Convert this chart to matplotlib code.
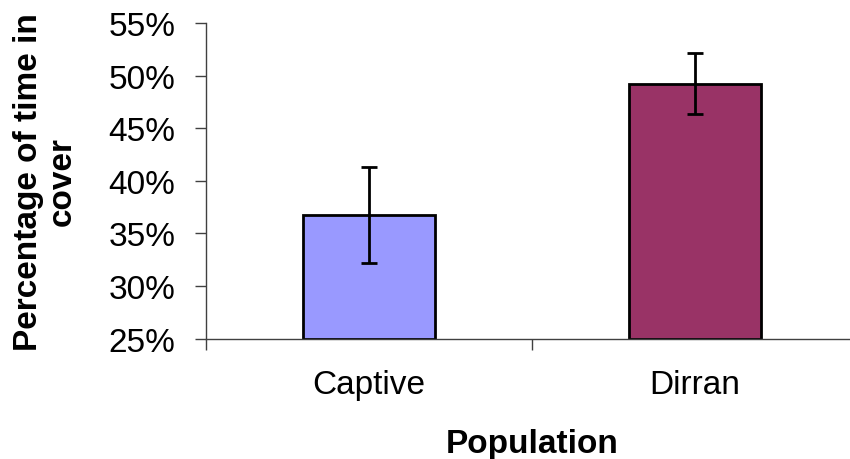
import numpy as np
import matplotlib.pyplot as plt
from matplotlib.ticker import FuncFormatter, MultipleLocator

plt.rcParams['font.family'] = ['Liberation Sans', 'DejaVu Sans']

populations = ["Captive", "Dirran"]
cover_pct = [36.7, 49.2]
err_low = [32.2, 46.3]
err_high = [41.3, 52.1]
bar_colours = ["#9999FF", "#993366"]

fig = plt.figure(figsize=(8.5, 4.6), dpi=100)
ax = fig.add_axes([206 / 850, 120.5 / 460, 652 / 850, 315.5 / 460])

x = np.arange(len(populations))
vals = np.array(cover_pct)
yerr = [vals - np.array(err_low), np.array(err_high) - vals]

ax.bar(x, vals - 25, bottom=25, width=0.405, color=bar_colours,
       edgecolor="black", linewidth=2, zorder=2)
ax.errorbar(x, vals, yerr=yerr, fmt="none", ecolor="black",
            elinewidth=2, capsize=6, capthick=2, zorder=3)

ax.set_xlim(-0.5, 1.5)
ax.set_ylim(25, 55)
ax.yaxis.set_major_locator(MultipleLocator(5))
ax.yaxis.set_major_formatter(FuncFormatter(lambda v, p: "%d%%" % v))

# categories in the middle, ticks on the boundaries
ax.set_xticks(x)
ax.set_xticklabels(populations)
ax.set_xticks([-0.5, 0.5, 1.5], minor=True)
ax.tick_params(axis="x", which="major", length=0, pad=22, labelsize=24)
ax.tick_params(axis="x", which="minor", length=8, width=1, direction="out",
               color="#404040")
ax.tick_params(axis="y", length=8, width=1, color="#404040", labelsize=24,
               pad=14)

for side in ["top", "right"]:
    ax.spines[side].set_visible(False)
for side in ["left", "bottom"]:
    ax.spines[side].set_color("#404040")
    ax.spines[side].set_linewidth(1)

ax.set_xlabel("Population", fontsize=24, fontweight="bold", labelpad=20)
ax.set_ylabel("Percentage of time in\ncover", fontsize=24, fontweight="bold",
              labelpad=22, linespacing=1.1)

fig.savefig("out.png", dpi=100)
